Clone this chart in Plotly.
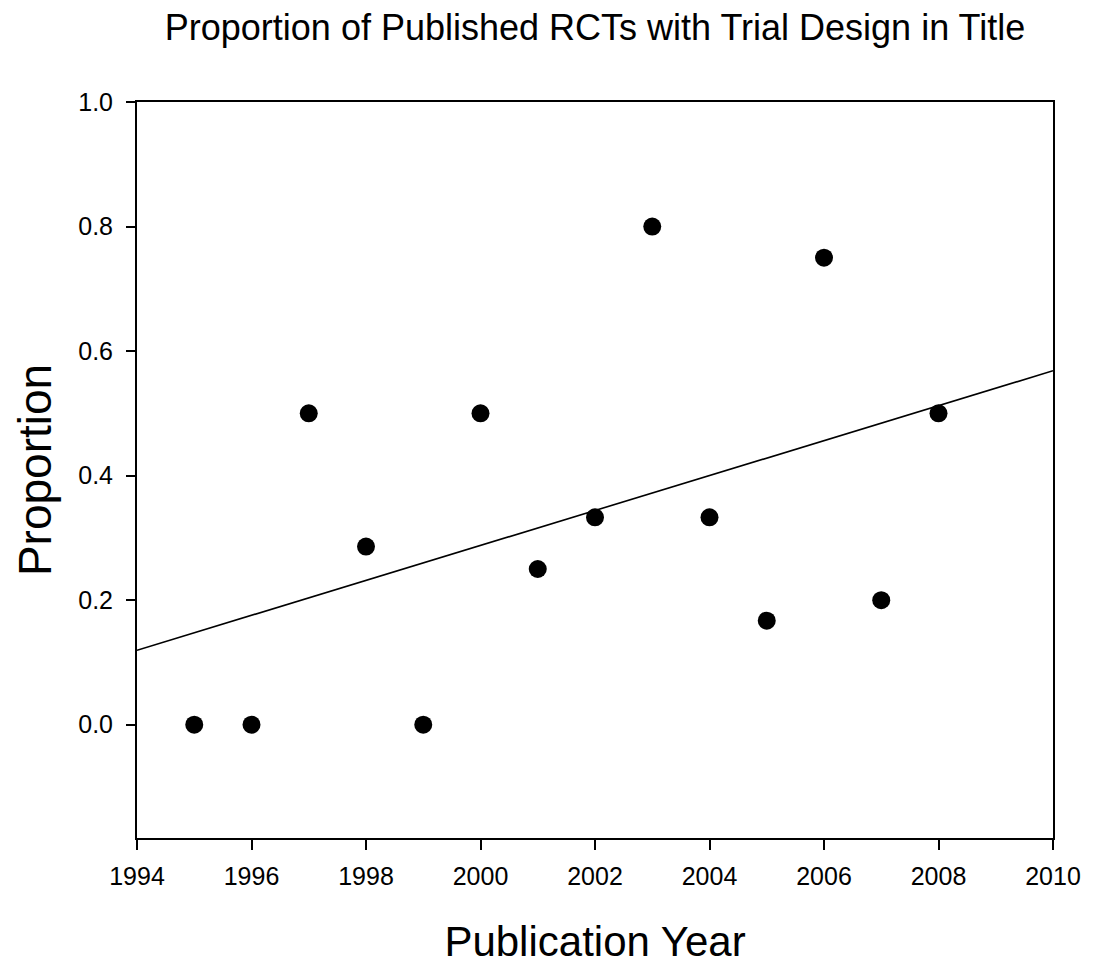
import numpy as np
import plotly.graph_objects as go

years = [1995, 1996, 1997, 1998, 1999, 2000, 2001, 2002, 2003, 2004, 2005, 2006, 2007, 2008]
proportion = [0.0, 0.0, 0.5, 0.286, 0.0, 0.5, 0.25, 0.333, 0.8, 0.333, 0.167, 0.75, 0.2, 0.5]
y_ticks = [0.0, 0.2, 0.4, 0.6, 0.8, 1.0]
x_ticks = [1994, 1996, 1998, 2000, 2002, 2004, 2006, 2008, 2010]
x_range = [1994, 2010]
y_range = [-0.182, 1.0]

slope, intercept = np.polyfit(years, proportion, 1)
fit_x = np.array(x_range, dtype=float)
fit_y = slope * fit_x + intercept

FONT = "Liberation Sans, Arial, sans-serif"
W, H = 1086, 957  # page body has an 8px margin

fig = go.Figure()
fig.add_trace(go.Scatter(x=fit_x, y=fit_y, mode="lines",
                         line=dict(color="black", width=1.6), showlegend=False, hoverinfo="skip"))
fig.add_trace(go.Scatter(x=years, y=proportion, mode="markers",
                         marker=dict(color="black", size=18, symbol="circle"), showlegend=False))

fig.update_layout(
    width=W, height=H,
    paper_bgcolor="white", plot_bgcolor="white",
    margin=dict(l=129, r=41, t=94, b=127, autoexpand=False),
    font=dict(family=FONT, color="black"),
    title=dict(text="Proportion of Published RCTs with Trial Design in Title",
               x=0.5, xref="paper", xanchor="center",
               y=1 - 19 / H, yref="container", yanchor="middle",
               font=dict(size=36, family=FONT, color="black")),
)
fig.update_xaxes(
    range=x_range, tickvals=x_ticks, ticktext=[str(v) for v in x_ticks],
    showgrid=False, zeroline=False,
    showline=True, linecolor="black", linewidth=2, mirror=True,
    ticks="outside", ticklen=10, tickwidth=1.5, tickcolor="black",
    tickfont=dict(size=25, family=FONT, color="black"),
    ticklabelstandoff=5,
    title=dict(text="Publication Year", font=dict(size=42, family=FONT, color="black"), standoff=40),
)
fig.update_yaxes(
    range=y_range, tickvals=y_ticks, ticktext=[f"{v:.1f}" for v in y_ticks],
    showgrid=False, zeroline=False,
    showline=True, linecolor="black", linewidth=2, mirror=True,
    ticks="outside", ticklen=9, tickwidth=1.5, tickcolor="black",
    tickfont=dict(size=25, family=FONT, color="black"),
    ticklabelstandoff=8,
    title=dict(text="Proportion", font=dict(size=46, family=FONT, color="black"), standoff=12),
)

fig.write_html("out.html")
